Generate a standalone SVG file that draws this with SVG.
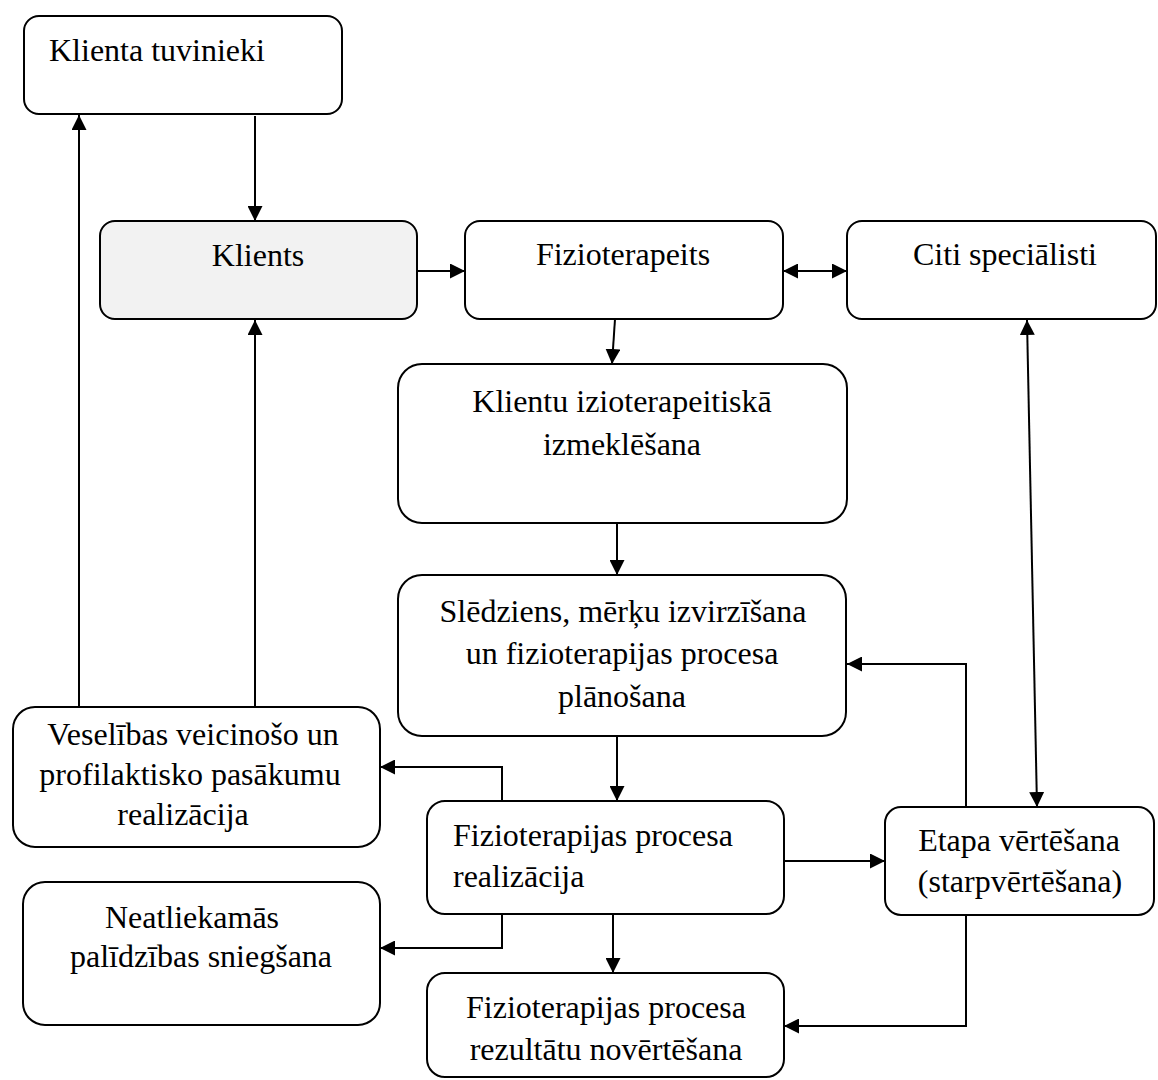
<svg xmlns="http://www.w3.org/2000/svg" width="1158" height="1080" viewBox="0 0 1158 1080">
<style>
.box{fill:#ffffff;stroke:#000000;stroke-width:2}
.grey{fill:#f2f2f2}
.t{font-family:"Liberation Serif","Times New Roman",serif;font-size:32px;fill:#000000}
.c{text-anchor:middle}
.ln{fill:none;stroke:#000000;stroke-width:2}
.a{marker-end:url(#ah)}
.d{marker-start:url(#ah);marker-end:url(#ah)}
</style>
<defs>
<marker id="ah" markerUnits="userSpaceOnUse" markerWidth="15" markerHeight="15" refX="15" refY="7.5" orient="auto-start-reverse">
<path d="M0,0 L15,7.5 L0,15 Z" fill="#000000"/>
</marker>
</defs>
<rect width="1158" height="1080" fill="#ffffff"/>
<g id="connectors">
<path class="ln a" d="M255,116 V221"/>
<path class="ln a" d="M79,707 V115"/>
<path class="ln a" d="M255,707 V320"/>
<path class="ln a" d="M417,271 H465"/>
<path class="ln d" d="M783,271 H847"/>
<path class="ln a" d="M615,319 L612,364"/>
<path class="ln a" d="M617,523 V575"/>
<path class="ln d" d="M1027,320 L1037,807"/>
<path class="ln a" d="M617,736 V801"/>
<path class="ln a" d="M502,801 V767 H380"/>
<path class="ln a" d="M502,914 V948 H380"/>
<path class="ln a" d="M613,914 V973"/>
<path class="ln a" d="M784,861 H885"/>
<path class="ln a" d="M966,807 V664 H847"/>
<path class="ln a" d="M966,915 V1026 H784"/>
</g>
<g id="n-tuvinieki">
<rect class="box" x="24" y="16" width="318" height="98" rx="15"/>
<text class="t" x="49" y="61">Klienta tuvinieki</text>
</g>
<g id="n-klients">
<rect class="box grey" x="100" y="221" width="317" height="98" rx="15"/>
<text class="t c" x="258" y="266">Klients</text>
</g>
<g id="n-fizioterapeits">
<rect class="box" x="465" y="221" width="318" height="98" rx="15"/>
<text class="t c" x="623" y="265">Fizioterapeits</text>
</g>
<g id="n-citi">
<rect class="box" x="847" y="221" width="309" height="98" rx="15"/>
<text class="t c" x="1005" y="265">Citi speciālisti</text>
</g>
<g id="n-izmeklesana">
<rect class="box" x="398" y="364" width="449" height="159" rx="24"/>
<text class="t c" x="622" y="412">Klientu izioterapeitiskā</text>
<text class="t c" x="622" y="455">izmeklēšana</text>
</g>
<g id="n-sledziens">
<rect class="box" x="398" y="575" width="448" height="161" rx="24"/>
<text class="t c" x="623" y="622">Slēdziens, mērķu izvirzīšana</text>
<text class="t c" x="622" y="664">un fizioterapijas procesa</text>
<text class="t c" x="622" y="707">plānošana</text>
</g>
<g id="n-veselibas">
<rect class="box" x="13" y="707" width="367" height="140" rx="22"/>
<text class="t c" x="193" y="745">Veselības veicinošo un</text>
<text class="t c" x="190" y="785">profilaktisko pasākumu</text>
<text class="t c" x="183" y="825">realizācija</text>
</g>
<g id="n-neatliekamas">
<rect class="box" x="23" y="882" width="357" height="143" rx="22"/>
<text class="t c" x="192" y="928">Neatliekamās</text>
<text class="t c" x="201" y="967">palīdzības sniegšana</text>
</g>
<g id="n-realizacija">
<rect class="box" x="427" y="801" width="357" height="113" rx="18"/>
<text class="t" x="453" y="846">Fizioterapijas procesa</text>
<text class="t" x="453" y="887">realizācija</text>
</g>
<g id="n-etapa">
<rect class="box" x="885" y="807" width="269" height="108" rx="16"/>
<text class="t c" x="1019" y="851">Etapa vērtēšana</text>
<text class="t c" x="1020" y="892">(starpvērtēšana)</text>
</g>
<g id="n-rezultatu">
<rect class="box" x="427" y="973" width="357" height="104" rx="18"/>
<text class="t c" x="606" y="1018">Fizioterapijas procesa</text>
<text class="t c" x="606" y="1060">rezultātu novērtēšana</text>
</g>
</svg>
